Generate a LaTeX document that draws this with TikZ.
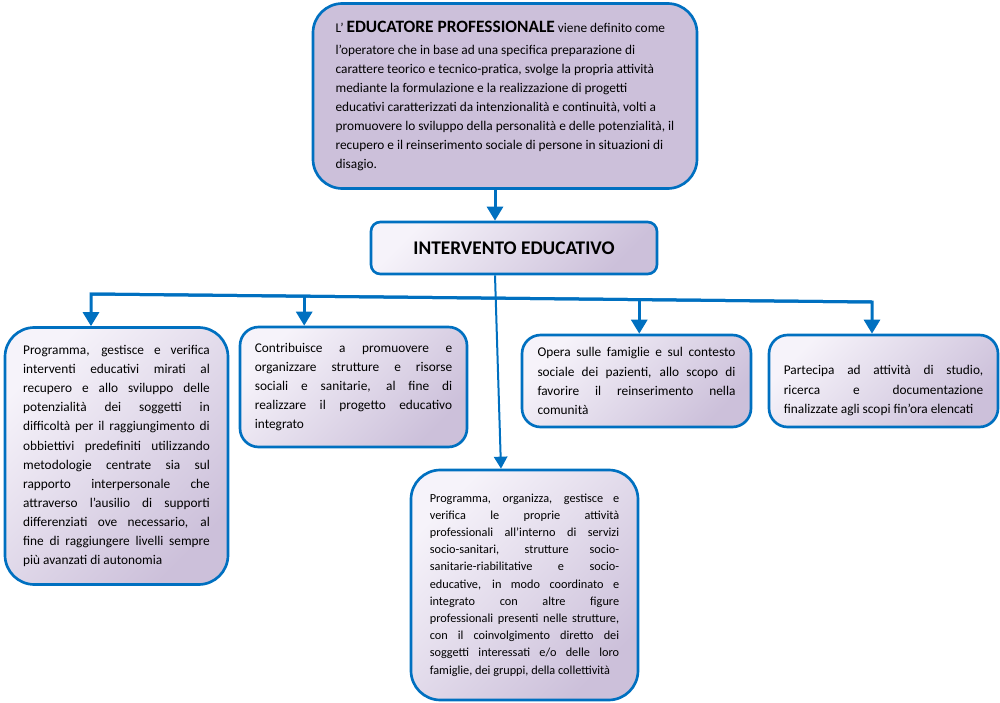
\documentclass[tikz,border=0pt]{standalone}
\usepackage{fontspec}
\setmainfont{Carlito}
\usetikzlibrary{arrows.meta,calc}
\definecolor{eduBlue}{HTML}{0070C0}
\definecolor{lavDark}{HTML}{CCC0DA}
\definecolor{lavLight}{HTML}{F6F3FA}

\begin{document}
\begin{tikzpicture}[x=0.75pt,y=-0.75pt,
    box/.style={draw=eduBlue,line width=2pt,inner sep=0pt,align=justify,
        font=\fontsize{10}{14.3}\selectfont},
    grad/.style={top color=lavLight,bottom color=lavDark,shading angle=45},
    link/.style={draw=eduBlue,line width=2.25pt},
    arr/.style={link,-{Triangle[width=12pt,length=10.5pt]}},
    thinarr/.style={draw=eduBlue,line width=1.5pt,-{Triangle[width=10pt,length=9pt]}}]
\useasboundingbox (0,0) rectangle (1000,703);
\hyphenpenalty=10000 \tolerance=10000

\node[box,fill=lavDark,align=left,rounded corners=22pt,minimum width=288pt,
    minimum height=138.75pt,font=\fontsize{10}{14.3}\selectfont]
    (edu) at (505,96) {L’ {\bfseries\fontsize{13}{14.3}\selectfont EDUCATORE PROFESSIONALE} viene definito come\\[1.8pt]
    l’operatore che in base ad una specifica preparazione di\\
    carattere teorico e tecnico-pratica, svolge la propria attività\\
    mediante la formulazione e la realizzazione di progetti\\
    educativi caratterizzati da intenzionalità e continuità, volti a\\
    promuovere lo sviluppo della personalità e delle potenzialità, il\\
    recupero e il reinserimento sociale di persone in situazioni di\\
    disagio.};
\node[box,grad,align=center,rounded corners=7pt,minimum width=214.5pt,
    minimum height=39pt,font=\bfseries\fontsize{14.5}{16}\selectfont]
    (intervento) at (514,248) {INTERVENTO EDUCATIVO};

\node[box,grad,rounded corners=22pt,minimum width=167.25pt,minimum height=192.75pt,
    text width=140pt] (prog) at (116.5,456) {Programma, gestisce e verifica\linebreak
    interventi educativi mirati al\linebreak
    recupero e allo sviluppo delle\linebreak
    potenzialità dei soggetti in\linebreak
    difficoltà per il raggiungimento di\linebreak
    obbiettivi predefiniti utilizzando\linebreak
    metodologie centrate sia sul\linebreak
    rapporto interpersonale che\linebreak
    attraverso l’ausilio di supporti\linebreak
    differenziati ove necessario, al\linebreak
    fine di raggiungere livelli sempre\linebreak
    più avanzati di autonomia};
\node[box,grad,rounded corners=14pt,minimum width=170.25pt,minimum height=90pt,
    text width=148pt] (risorse) at (353.5,387) {Contribuisce a promuovere e\linebreak
    organizzare strutture e risorse\linebreak
    sociali e sanitarie, al fine di\linebreak
    realizzare il progetto educativo\linebreak
    integrato};
\node[box,grad,rounded corners=14pt,minimum width=171.75pt,minimum height=69pt,
    text width=148.5pt] (famiglie) at (636.5,381) {Opera sulle famiglie e sul contesto\linebreak
    sociale dei pazienti, allo scopo di\linebreak
    favorire il reinserimento nella\linebreak
    comunità};
\node[box,grad,rounded corners=14pt,minimum width=171.75pt,minimum height=69pt,
    text width=149.5pt,text depth=16pt] (studio) at (883.5,381) {Partecipa ad attività di studio,\linebreak
    ricerca e documentazione\linebreak
    finalizzate agli scopi fin’ora elencati};
\node[box,grad,rounded corners=22pt,minimum width=170.25pt,minimum height=172.5pt,
    text width=142pt,font=\fontsize{9.2}{12.9}\selectfont] (servizi) at (524.5,585)
    {Programma, organizza, gestisce e\linebreak
    verifica le proprie attività\linebreak
    professionali all’interno di servizi\linebreak
    socio-sanitari, strutture socio-\linebreak
    sanitarie-riabilitative e socio-\linebreak
    educative, in modo coordinato e\linebreak
    integrato con altre figure\linebreak
    professionali presenti nelle strutture,\linebreak
    con il coinvolgimento diretto dei\linebreak
    soggetti interessati e/o delle loro\linebreak
    famiglie, dei gruppi, della collettività};

% connectors
\coordinate (barL) at (91,294);
\coordinate (barR) at (872,302);
\coordinate (barA) at ($(barL)!0.273!(barR)$);
\coordinate (barB) at ($(barL)!0.702!(barR)$);
\draw[arr] ($(edu.south)+(-10,0)$) coordinate (eduOut) -- (eduOut |- intervento.north);
\draw[thinarr] ($(intervento.south)+(-19,0)$) -- ($(servizi.north)+(-23.5,0)$);
\draw[arr] (barR) -- (barL) -- (barL |- prog.north);
\draw[arr] (barL) -- (barR) -- (barR |- studio.north);
\draw[arr] (barA) -- (barA |- risorse.north);
\draw[arr] (barB) -- (barB |- famiglie.north);
\end{tikzpicture}
\end{document}
